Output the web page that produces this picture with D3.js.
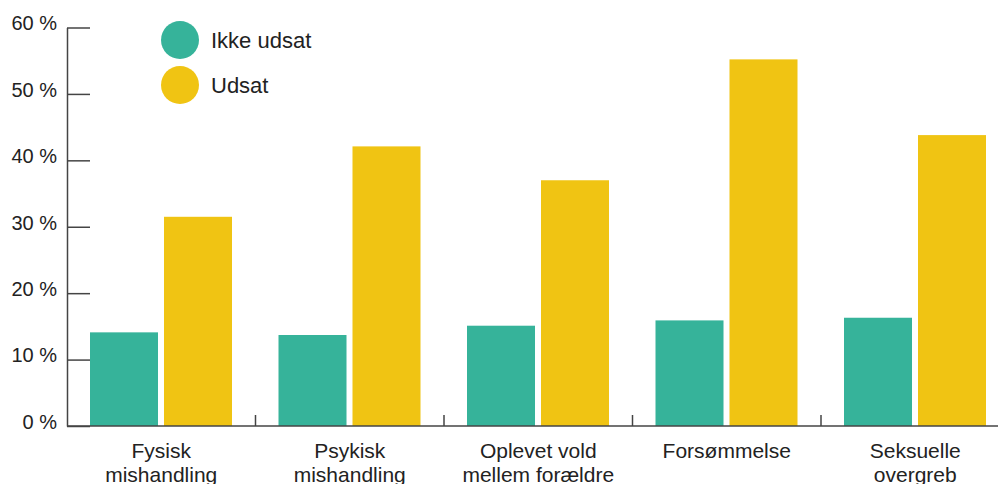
<!DOCTYPE html>
<html>
<head>
<meta charset="utf-8">
<script src="https://cdn.jsdelivr.net/npm/d3@7"></script>
<style>
  body { margin: 0; background: #fff; }
  text { font-family: "Liberation Sans", Arial, sans-serif; fill: #222; }
</style>
</head>
<body>
<svg id="chart"></svg>
<script>
const categories = ['Fysisk\nmishandling', 'Psykisk\nmishandling', 'Oplevet vold\nmellem forældre', 'Forsømmelse', 'Seksuelle\novergreb'];
const series = ['Ikke udsat', 'Udsat'];
const ikkeUdsat = [14.1, 13.7, 15.1, 15.9, 16.3];
const udsat = [31.5, 42.1, 37.0, 55.2, 43.8];
const yTicks = [0, 10, 20, 30, 40, 50, 60];

const width = 998, height = 484;
const colors = { 'Ikke udsat': '#36b39a', 'Udsat': '#f0c413' };

const data = categories.map((c, i) => ({ cat: c, 'Ikke udsat': ikkeUdsat[i], 'Udsat': udsat[i] }));

const svg = d3.select('#chart').attr('width', width).attr('height', height);

const marginLeft = 67, marginTop = 27.5, baseY = 426;

const x = d3.scaleBand().domain(categories).range([marginLeft, marginLeft + 188.5 * 5]).padding(0);
const x1 = d3.scaleBand().domain(series).range([23, 165]).paddingInner(0.081).paddingOuter(0);
const y = d3.scaleLinear().domain([0, 60]).range([baseY, marginTop]);

// bars
const groups = svg.append('g').selectAll('g')
  .data(data)
  .enter().append('g')
  .attr('transform', d => `translate(${x(d.cat)},0)`);

groups.selectAll('rect')
  .data(d => series.map(s => ({ key: s, value: d[s] })))
  .enter().append('rect')
  .attr('x', d => x1(d.key))
  .attr('width', x1.bandwidth())
  .attr('y', d => y(d.value))
  .attr('height', d => baseY - y(d.value))
  .attr('fill', d => colors[d.key]);

// y axis
const yAxis = svg.append('g')
  .attr('transform', `translate(${marginLeft},0)`)
  .call(d3.axisLeft(y).tickValues(yTicks).tickSize(-23).tickSizeOuter(0).tickPadding(10)
    .tickFormat(d => d + ' %'));
yAxis.selectAll('path, line').attr('stroke', '#444').attr('stroke-width', 1.5);
yAxis.selectAll('text')
  .attr('font-size', 20)
  .attr('font-family', '"Liberation Sans", Arial, sans-serif')
  .attr('fill', '#222')
  .attr('y', -4);

// x baseline and separators
svg.append('line')
  .attr('x1', marginLeft).attr('x2', width)
  .attr('y1', baseY).attr('y2', baseY)
  .attr('stroke', '#444').attr('stroke-width', 1.5);

svg.append('g').selectAll('line')
  .data(categories.slice(1))
  .enter().append('line')
  .attr('x1', d => x(d)).attr('x2', d => x(d))
  .attr('y1', baseY).attr('y2', baseY - 11)
  .attr('stroke', '#444').attr('stroke-width', 1.5);

// category labels
const labels = svg.append('g').selectAll('text')
  .data(categories)
  .enter().append('text')
  .attr('x', d => x(d) + x.bandwidth() / 2)
  .attr('y', 458)
  .attr('text-anchor', 'middle')
  .attr('font-size', 21);
labels.selectAll('tspan')
  .data(d => d.split('\n').map(t => ({ t, cx: x(d) + x.bandwidth() / 2 })))
  .enter().append('tspan')
  .attr('x', d => d.cx)
  .attr('dy', (d, i) => i === 0 ? 0 : 24)
  .text(d => d.t);

// legend
const legend = svg.append('g').selectAll('g')
  .data(series)
  .enter().append('g')
  .attr('transform', (d, i) => `translate(180,${40 + i * 45})`);
legend.append('circle').attr('r', 19).attr('fill', d => colors[d]);
legend.append('text')
  .attr('x', 31).attr('y', 8)
  .attr('font-size', 22)
  .text(d => d);
</script>
</body>
</html>
